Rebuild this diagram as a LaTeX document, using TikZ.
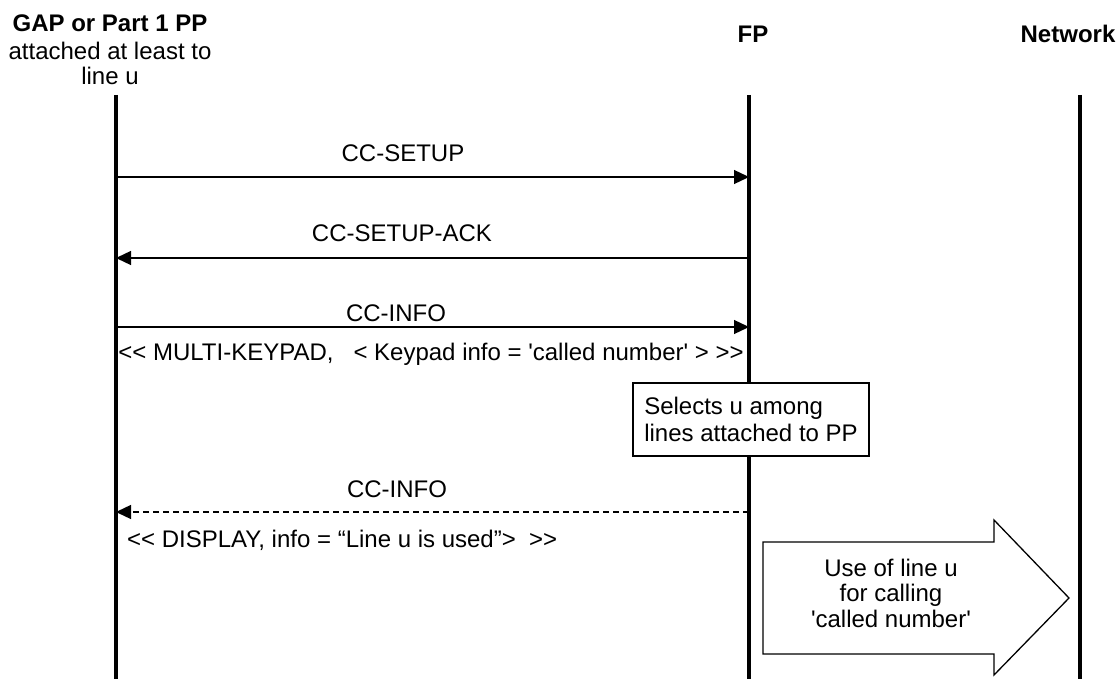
\documentclass[tikz,border=0pt]{standalone}
\usepackage{fontspec}
\setmainfont{Liberation Sans}[Ligatures=TeXOff]
\usepackage{tikz}
\usetikzlibrary{arrows.meta}
\tikzstyle{lifeline} = [line width=3.5pt]
\tikzstyle{msg} = [line width=1.3pt, -{Triangle[length=15pt,width=14pt]}]
\tikzstyle{reply} = [msg, dash pattern=on 6pt off 4pt]
\tikzstyle{head} = [font=\fontsize{24}{27}\selectfont\bfseries, inner sep=0pt, anchor=base]
\tikzstyle{lbl} = [font=\fontsize{24}{27}\selectfont, inner sep=0pt, anchor=base]
\tikzstyle{note} = [rectangle, draw, line width=1.3pt, fill=white, align=left,
  minimum width=236pt, minimum height=73pt, font=\fontsize{24}{27}\selectfont]
\tikzstyle{bigarrow} = [draw, line width=1.3pt, fill=white]

\begin{document}
\begin{tikzpicture}[x=1pt, y=-1pt]
    \useasboundingbox (0,0) rectangle (1119,679);
    % lifelines
    \coordinate (pptop) at (116,95);
    \coordinate (ppbot) at (116,679);
    \coordinate (fptop) at (749,95);
    \coordinate (fpbot) at (749,679);
    \coordinate (nwtop) at (1080,95);
    \coordinate (nwbot) at (1080,679);
    \draw[lifeline] (pptop) -- (ppbot);
    \draw[lifeline] (fptop) -- (fpbot);
    \draw[lifeline] (nwtop) -- (nwbot);
    % headers
    \node[head] (pphead) at (110,32) {GAP or Part 1 PP};
    \node[lbl] (ppsub) at (110,60) {attached at least to};
    \node[lbl] (ppline) at (110,85) {line u};
    \node[head] (fphead) at (753,43) {FP};
    \node[head] (nwhead) at (1068,43) {Network};
    % messages
    \coordinate (pp1) at (116,177);
    \coordinate (fp1) at (749,177);
    \coordinate (pp2) at (116,258);
    \coordinate (fp2) at (749,258);
    \coordinate (pp3) at (116,327);
    \coordinate (fp3) at (749,327);
    \coordinate (pp4) at (116,512);
    \coordinate (fp4) at (749,512);
    \draw[msg] (pp1) -- (fp1);
    \node[lbl] (setup) at (403,162) {CC-SETUP};
    \draw[msg] (fp2) -- (pp2);
    \node[lbl] (setupack) at (402,241) {CC-SETUP-ACK};
    \draw[msg] (pp3) -- (fp3);
    \node[lbl] (info) at (396,321) {CC-INFO};
    \node[lbl] (keypad) at (431,360) {<< MULTI-KEYPAD,\ \ \ < Keypad info = 'called number' > >>};
    \node[note] (select) at (751,419.5) {Selects u among\\lines attached to PP};
    \draw[reply] (fp4) -- (pp4);
    \node[lbl] (info2) at (397,497) {CC-INFO};
    \node[lbl, anchor=base west] (display) at (127,547) {<< DISPLAY, info = “Line u is used”>\ \ >>};
    % use of line u
    \draw[bigarrow] (763,542) -- (994,542) -- (994,520) -- (1069,598)
      -- (994,675) -- (994,654) -- (763,654) -- cycle;
    \node[align=center, font=\fontsize{24}{25.5}\selectfont] (usage) at (891,593)
      {Use of line u\\for calling\\'called number'};
\end{tikzpicture}
\end{document}
